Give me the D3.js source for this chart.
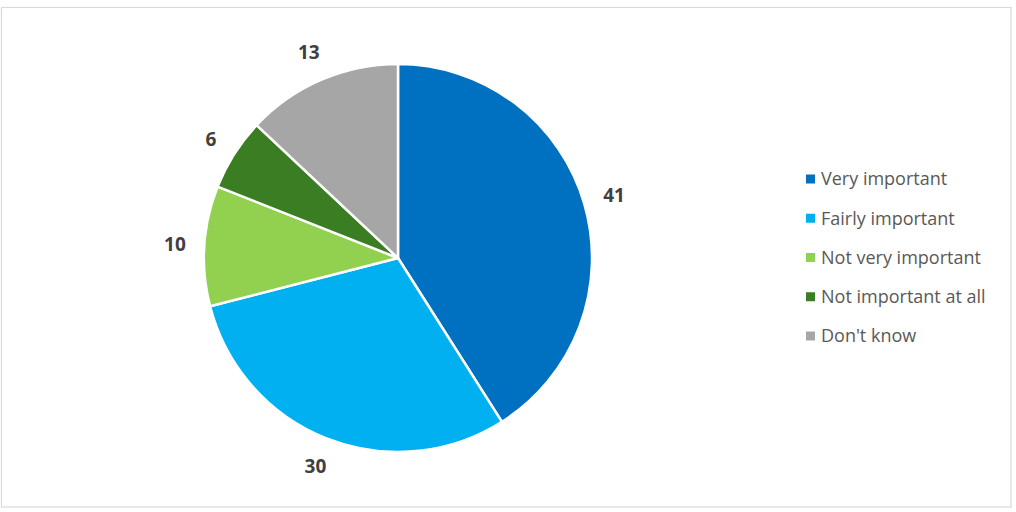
<!DOCTYPE html>
<html><head><meta charset="utf-8">
<script src="https://cdn.jsdelivr.net/npm/d3@7"></script>
<style>body{margin:0;background:#fff}svg{display:block}</style>
</head><body>
<svg id="chart" width="1016" height="512"></svg>
<script>
const categories = ["Very important","Fairly important","Not very important","Not important at all","Don't know"];
const values = [41, 30, 10, 6, 13];
const colors = ["#0070C0","#00B0F0","#92D050","#3A7D22","#A6A6A6"];

const svg = d3.select("#chart");
svg.append("rect").attr("x",1.5).attr("y",7.5).attr("width",1009.5).attr("height",499.5)
  .attr("fill","#fff").attr("stroke","#D9D9D9").attr("stroke-width",1.2);

const cx = 398, cy = 258, R = 194;
const pie = d3.pie().sort(null).value(d => d.v);
const data = pie(categories.map((c,i)=>({c, v: values[i], col: colors[i]})));
const arc = d3.arc().innerRadius(0).outerRadius(R);
const g = svg.append("g").attr("transform",`translate(${cx},${cy})`);
g.selectAll("path").data(data).enter().append("path")
  .attr("d", arc).attr("fill", d=>d.data.col)
  .attr("stroke","#fff").attr("stroke-width",2.5).attr("stroke-linejoin","round");

// outside-end labels: text box kept a fixed gap from the rim
const gap = 18;
g.selectAll("text.lbl").data(data).enter().append("text")
  .attr("class","lbl")
  .attr("text-anchor","middle").attr("dy","0.36em")
  .attr("font-family","'Open Sans', 'Liberation Sans', sans-serif")
  .attr("font-weight","bold").attr("font-size",19).attr("fill","#404040")
  .text(d=>d.data.v)
  .each(function(d){
    const a = (d.startAngle + d.endAngle)/2;
    const s = Math.sin(a), c = -Math.cos(a);
    const bb = this.getBBox();
    const ext = bb.width/2*Math.abs(s) + 9*Math.abs(c);
    const r = R + gap + ext;
    d3.select(this).attr("x", s*r).attr("y", c*r);
  });

const ly = d3.scalePoint().domain(categories).range([179, 336]);
const items = svg.append("g").selectAll("g").data(categories).enter().append("g")
  .attr("transform", d=>`translate(806,${ly(d)})`);
items.append("rect").attr("x",0).attr("y",-4.5).attr("width",9).attr("height",9)
  .attr("fill",(d,i)=>colors[i]);
items.append("text").attr("x",15).attr("dy","0.36em")
  .attr("font-family","'Open Sans', 'Liberation Sans', sans-serif")
  .attr("font-size",18).attr("fill","#595959").text(d=>d);
</script>
</body></html>
